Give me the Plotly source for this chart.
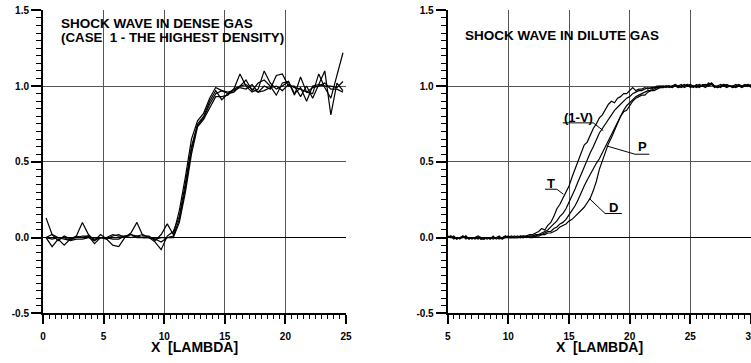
import numpy as np
import plotly.graph_objects as go

# ---------------- data: left panel (dense gas) ----------------
x_dense = [0.25 + 0.5 * i for i in range(50)]
dense_a = [0.13, 0.02, 0.00, -0.01, -0.02, 0.01, 0.10, 0.02, -0.02, 0.02,
           -0.01, 0.01, 0.02, 0.00, 0.03, 0.10, 0.01, 0.01, -0.02, 0.02,
           0.09, 0.02, 0.18, 0.40, 0.65, 0.77, 0.82, 0.92, 0.99, 0.97,
           0.95, 0.98, 1.08, 1.00, 0.96, 0.98, 1.10, 1.02, 0.98, 1.00,
           1.03, 0.94, 1.06, 0.96, 0.95, 1.08, 0.99, 0.92, 1.07, 1.22]
dense_b = [0.00, -0.06, -0.01, -0.05, -0.01, 0.01, 0.00, 0.01, -0.04, 0.00,
           -0.01, -0.05, -0.06, 0.00, 0.02, 0.01, 0.00, 0.00, -0.03, -0.08,
           0.01, 0.04, 0.14, 0.36, 0.60, 0.75, 0.80, 0.90, 0.97, 0.91,
           0.95, 0.96, 1.00, 1.04, 0.97, 1.02, 1.04, 1.00, 0.94, 1.02,
           1.03, 0.95, 0.99, 0.90, 1.00, 1.01, 1.10, 0.81, 1.02, 0.97]
dense_c = [0.00, 0.02, -0.02, 0.01, -0.01, 0.00, 0.01, 0.01, -0.01, 0.00,
           0.00, 0.02, 0.01, 0.01, 0.00, 0.01, 0.02, 0.00, -0.01, 0.00,
           0.00, 0.01, 0.12, 0.33, 0.58, 0.74, 0.79, 0.88, 0.95, 0.97,
           0.96, 0.97, 0.99, 0.98, 1.01, 0.96, 1.00, 0.98, 1.07, 1.08,
           1.00, 1.00, 0.93, 1.00, 0.92, 1.01, 1.00, 1.00, 0.99, 1.03]
dense_d = [0.00, -0.01, 0.00, 0.00, -0.02, -0.01, -0.01, 0.00, -0.02, 0.00,
           0.00, -0.01, -0.01, 0.01, 0.02, 0.00, 0.00, 0.00, -0.01, -0.03,
           0.00, 0.00, 0.10, 0.30, 0.55, 0.73, 0.78, 0.86, 0.93, 0.93,
           0.94, 0.98, 1.00, 1.01, 0.98, 0.96, 0.97, 0.99, 1.00, 0.97,
           1.01, 0.99, 0.98, 0.96, 0.99, 1.00, 1.02, 0.98, 0.98, 0.96]

# ---------------- data: right panel (dilute gas) ----------------
x_dilute = [5.0 + 0.25 * k for k in range(101)]
dilute_t = ([0.01, 0.00, 0.01, -0.01, 0.00, 0.00, 0.01, -0.01, 0.00, -0.01,
             0.00, -0.01, -0.01, 0.00, -0.01, 0.01, -0.01, 0.00, 0.00, 0.01,
             0.00, 0.00, 0.01, 0.00, 0.01, 0.01, 0.01, 0.02]
            + [0.02, 0.03, 0.04, 0.06, 0.05, 0.08, 0.10, 0.14]
            + [0.19, 0.22, 0.26, 0.30, 0.34, 0.40, 0.45, 0.50, 0.56, 0.61,
               0.63, 0.68, 0.72, 0.75, 0.79, 0.81, 0.85, 0.88, 0.90, 0.89,
               0.92, 0.93, 0.95, 0.95, 0.97, 0.99, 0.97, 0.98, 0.98, 0.99,
               0.98, 0.99, 0.99, 1.00, 1.00]
            + [0.99, 1.00, 1.00, 0.99, 1.01, 1.00, 0.99, 1.00, 1.01, 0.99,
               1.00, 1.00, 1.01, 1.00, 0.99, 1.01, 1.02, 1.00, 0.99, 1.00,
               1.01, 1.00, 1.00, 0.99, 1.00, 1.01, 1.00, 1.00, 1.00, 1.01])
dilute_v = ([0.00, 0.01, 0.00, 0.00, -0.01, 0.01, 0.00, 0.00, -0.01, 0.00,
             0.01, 0.00, -0.01, 0.00, 0.00, -0.01, 0.00, 0.01, -0.01, 0.00,
             0.00, 0.01, 0.00, 0.00, 0.01, 0.00, 0.01, 0.01]
            + [0.01, 0.02, 0.02, 0.03, 0.04, 0.05, 0.07, 0.09]
            + [0.11, 0.14, 0.16, 0.19, 0.23, 0.27, 0.32, 0.37, 0.42, 0.47,
               0.51, 0.56, 0.60, 0.65, 0.69, 0.72, 0.75, 0.78, 0.81, 0.84,
               0.86, 0.88, 0.90, 0.92, 0.93, 0.95, 0.96, 0.97, 0.97, 0.98,
               0.99, 0.98, 0.99, 0.99, 1.00]
            + [1.00, 0.99, 1.00, 1.00, 1.00, 0.99, 1.00, 1.01, 1.00, 1.00,
               0.99, 1.01, 1.00, 1.00, 1.00, 1.02, 1.01, 0.99, 1.00, 1.01,
               1.00, 0.99, 1.00, 1.00, 1.01, 1.00, 0.99, 1.00, 1.01, 1.00])
dilute_p = ([0.01, 0.00, 0.00, -0.01, 0.00, 0.01, -0.01, 0.00, 0.00, 0.00,
             -0.01, 0.00, 0.00, -0.01, 0.00, 0.00, 0.00, -0.01, 0.00, 0.00,
             0.01, 0.00, 0.00, 0.00, 0.00, 0.01, 0.00, 0.01]
            + [0.01, 0.01, 0.02, 0.02, 0.03, 0.04, 0.04, 0.06, 0.07, 0.09,
               0.10, 0.12, 0.15, 0.18, 0.21, 0.25]
            + [0.30, 0.34, 0.38, 0.42, 0.46, 0.49, 0.52, 0.56, 0.60, 0.65,
               0.69, 0.73, 0.77, 0.81, 0.84, 0.87, 0.89, 0.91, 0.93, 0.94,
               0.95, 0.96, 0.97, 0.97, 0.98, 0.99, 0.99]
            + [1.00, 1.00, 0.99, 1.00, 1.01, 0.99, 1.00, 1.00, 1.01, 1.00,
               1.00, 1.00, 0.99, 1.01, 1.01, 1.00, 1.02, 1.00, 1.00, 0.99,
               1.01, 1.00, 1.00, 1.00, 0.99, 1.00, 1.00, 1.01, 1.00, 1.00])
dilute_d = ([0.00, 0.01, -0.01, 0.00, 0.00, 0.00, 0.01, -0.01, 0.00, 0.00,
             0.00, -0.01, 0.00, 0.00, -0.01, 0.00, 0.00, 0.00, -0.01, 0.01,
             0.00, 0.00, 0.00, 0.01, 0.00, 0.00, 0.01, 0.00]
            + [0.00, 0.01, 0.01, 0.02, 0.02, 0.03, 0.03, 0.04, 0.05, 0.07,
               0.08, 0.09, 0.11, 0.12, 0.14, 0.16, 0.18, 0.20, 0.23, 0.26]
            + [0.31, 0.37, 0.45, 0.51, 0.57, 0.62, 0.66, 0.71, 0.76, 0.80,
               0.83, 0.84, 0.87, 0.90, 0.92, 0.93, 0.94, 0.94, 0.96, 0.97,
               0.97, 0.98, 0.99]
            + [0.99, 1.00, 1.00, 0.99, 1.00, 1.00, 1.01, 0.99, 1.00, 1.01,
               1.00, 0.99, 1.00, 1.00, 1.01, 1.00, 1.01, 1.00, 0.99, 1.00,
               1.00, 1.01, 1.00, 0.99, 1.00, 1.00, 1.00, 1.00, 1.01, 0.99])

for s in (dense_a, dense_b, dense_c, dense_d):
    assert len(s) == len(x_dense)
for s in (dilute_t, dilute_v, dilute_p, dilute_d):
    assert len(s) == len(x_dilute), len(s)

# curve labels on the right panel: text, text position, leader polyline (underline + pointer)
curve_labels = [
    ("(1-V)", (15.77, 0.795), [14.48, 17.0, 17.83], [0.757, 0.757, 0.705]),
    ("P", (21.05, 0.60), [21.62, 20.44, 18.1], [0.55, 0.55, 0.605]),
    ("T", (13.55, 0.355), [13.02, 14.0, 14.53], [0.319, 0.319, 0.286]),
    ("D", (18.65, 0.20), [19.35, 17.97, 16.67], [0.159, 0.159, 0.258]),
]

x_ticks_dense = [0, 5, 10, 15, 20, 25]
x_ticks_dilute = [5, 10, 15, 20, 25, 30]
y_ticks = [-0.5, 0.0, 0.5, 1.0, 1.5]

# ---------------- figure ----------------
W, H = 751, 363
FONT = "Liberation Sans"
fig = go.Figure()

line_style = dict(color="black", width=1.2)
for s in (dense_a, dense_b, dense_c, dense_d):
    fig.add_trace(go.Scatter(x=x_dense, y=s, mode="lines", line=line_style,
                             xaxis="x", yaxis="y", showlegend=False, hoverinfo="skip"))
for s in (dilute_t, dilute_v, dilute_p, dilute_d):
    fig.add_trace(go.Scatter(x=x_dilute, y=s, mode="lines", line=line_style,
                             xaxis="x2", yaxis="y2", showlegend=False, hoverinfo="skip"))
for txt, (tx, ty), lx, ly in curve_labels:
    fig.add_trace(go.Scatter(x=lx, y=ly, mode="lines", line=dict(color="black", width=1),
                             xaxis="x2", yaxis="y2", showlegend=False, hoverinfo="skip"))
    fig.add_annotation(x=tx, y=ty, xref="x2", yref="y2", text="<b>%s</b>" % txt,
                       showarrow=False,
                       font=dict(family=FONT, size=13, color="black", weight="bold"),
                       xanchor="center", yanchor="middle")

tickfont = dict(family=FONT, size=10, color="black", weight="bold")


def xaxis_cfg(domain, rng, ticks, anchor):
    return dict(domain=domain, range=rng, tickvals=ticks,
                ticktext=["<b>%d</b>" % t for t in ticks], anchor=anchor,
                automargin=False,
                showline=True, linecolor="black", linewidth=2,
                ticks="outside", ticklen=9, tickwidth=1.5, tickcolor="black",
                minor=dict(dtick=0.5, ticks="outside", ticklen=4, tickwidth=1,
                           tickcolor="black", showgrid=False),
                showgrid=True, gridcolor="#555", gridwidth=1, zeroline=False,
                tickfont=tickfont, ticklabeloverflow="allow", ticklabelstandoff=4)


def yaxis_cfg(anchor):
    return dict(domain=[0.1369, 0.9716], range=[-0.5, 1.5], tickvals=y_ticks,
                ticktext=["<b>%.1f</b>" % t for t in y_ticks], anchor=anchor,
                automargin=False,
                showline=True, linecolor="black", linewidth=2,
                ticks="outside", ticklen=10, tickwidth=1.5, tickcolor="black",
                minor=dict(dtick=0.05, ticks="outside", ticklen=5, tickwidth=1,
                           tickcolor="black", showgrid=False),
                showgrid=True, gridcolor="#555", gridwidth=1,
                zeroline=True, zerolinecolor="black", zerolinewidth=1.2,
                tickfont=tickfont)


fig.update_layout(
    width=W, height=H,
    margin=dict(l=0, r=0, t=0, b=0),
    paper_bgcolor="white", plot_bgcolor="white",
    xaxis=xaxis_cfg([43 / W, 346 / W], [0, 25], x_ticks_dense, "y"),
    yaxis=yaxis_cfg("x"),
    xaxis2=xaxis_cfg([447.7 / W, 1.0], [5, 30], x_ticks_dilute, "y2"),
    yaxis2=yaxis_cfg("x2"),
)

title_font = dict(family=FONT, size=13.5, color="black", weight="bold")
fig.add_annotation(x=59.3 / W, y=1 - 23.3 / H, xref="paper", yref="paper",
                   text="<b>SHOCK WAVE IN DENSE GAS</b>", showarrow=False,
                   xanchor="left", yanchor="middle", font=title_font)
fig.add_annotation(x=59.3 / W, y=1 - 37.3 / H, xref="paper", yref="paper",
                   text="<b>(CASE&nbsp; 1 - THE HIGHEST DENSITY)</b>", showarrow=False,
                   xanchor="left", yanchor="middle",
                   font=dict(family=FONT, size=13.3, color="black", weight="bold"))
fig.add_annotation(x=462.7 / W, y=1 - 35.7 / H, xref="paper", yref="paper",
                   text="<b>SHOCK WAVE IN DILUTE GAS</b>", showarrow=False,
                   xanchor="left", yanchor="middle", font=title_font)

axis_title_font = dict(family=FONT, size=14, color="black", weight="bold")
for cx in (194.5 / W, 599.3 / W):
    fig.add_annotation(x=cx, y=1 - 347 / H, xref="paper", yref="paper",
                       text="<b>X&nbsp; [LAMBDA]</b>", showarrow=False,
                       xanchor="center", yanchor="middle", font=axis_title_font)

fig.write_html("out.html",
               config={"displayModeBar": False},
               post_script="document.body.style.margin='0';document.body.style.overflow='hidden';")
